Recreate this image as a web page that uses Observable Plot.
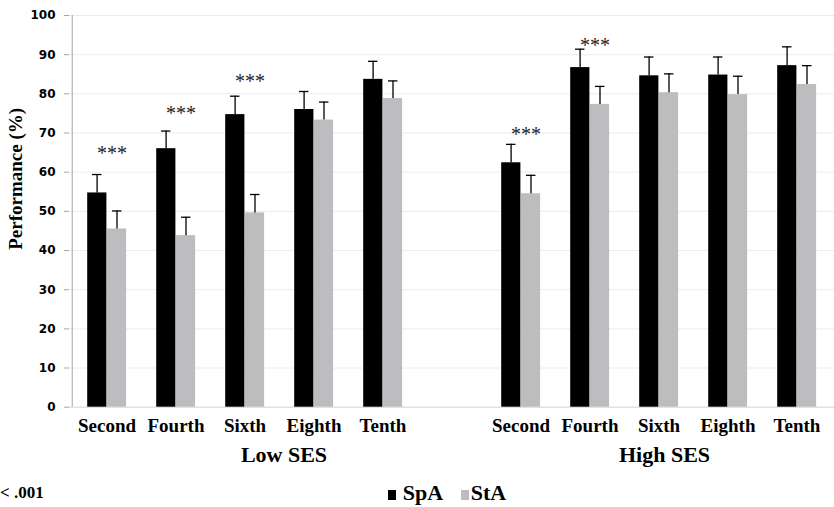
<!DOCTYPE html>
<html>
<head>
<meta charset="utf-8">
<script src="https://cdn.jsdelivr.net/npm/d3@7"></script>
<script src="https://cdn.jsdelivr.net/npm/@observablehq/plot@0.6"></script>
<style>
  html, body { margin: 0; padding: 0; background: #fff; overflow: hidden; }
  #wrap { position: relative; width: 834px; height: 507px; overflow: hidden; background: #fff; }
  #chart svg { display: block; }
  #foot { position: relative; width: 834px; height: 37px; font-family: "Liberation Serif", "Times New Roman", serif; font-weight: bold; color: #000; }
  #foot .note { position: absolute; left: 0px; top: 13.6px; font-size: 17px; line-height: 17px; white-space: nowrap; }
  #foot .lab { position: absolute; top: 11.6px; font-size: 22px; line-height: 22px; white-space: nowrap; }
  #foot .sw { position: absolute; top: 20px; width: 8px; height: 10px; }
</style>
</head>
<body>
<div id="wrap">
  <div id="chart"></div>
  <div id="foot">
    <span class="note">&lt; .001</span>
    <span class="sw" style="left:387.5px;background:#000;"></span>
    <span class="lab" style="left:402.7px;">SpA</span>
    <span class="sw" style="left:461px;background:#bdbdbf;"></span>
    <span class="lab" style="left:470.7px;">StA</span>
  </div>
</div>
<script>
// ---- data ----
const grades = ["Second", "Fourth", "Sixth", "Eighth", "Tenth"];
const groups = ["Low SES", "High SES"];
const series = ["SpA", "StA"];
const yTicks = [0, 10, 20, 30, 40, 50, 60, 70, 80, 90, 100];

const spaLow  = [54.7, 66.0, 74.7, 76.0, 83.7];
const staLow  = [45.5, 43.8, 49.6, 73.3, 78.8];
const spaHigh = [62.4, 86.7, 84.6, 84.8, 87.2];
const staHigh = [54.5, 77.3, 80.3, 79.8, 82.4];

const spaLowErr  = [4.7, 4.5, 4.7, 4.6, 4.6];
const staLowErr  = [4.6, 4.7, 4.7, 4.6, 4.5];
const spaHighErr = [4.7, 4.7, 4.8, 4.6, 4.8];
const staHighErr = [4.7, 4.6, 4.8, 4.7, 4.8];

// significance markers ("***"): group, grade, height of the marker
const starGroup = ["Low SES", "Low SES", "Low SES", "High SES", "High SES"];
const starGrade = ["Second", "Fourth", "Sixth", "Second", "Fourth"];
const starLevel = [65.6, 75.6, 84.0, 70.4, 93.0];

// ---- build tables ----
const key = (g, gr) => g + "|" + gr;
const slots = [
  ...grades.map(gr => key("Low SES", gr)),
  "gap",
  ...grades.map(gr => key("High SES", gr))
];
const values = {"Low SES": {SpA: spaLow, StA: staLow}, "High SES": {SpA: spaHigh, StA: staHigh}};
const errors = {"Low SES": {SpA: spaLowErr, StA: staLowErr}, "High SES": {SpA: spaHighErr, StA: staHighErr}};
const rows = [];
for (const g of groups) for (const s of series) grades.forEach((gr, i) => {
  rows.push({slot: key(g, gr), series: s, value: values[g][s][i], err: errors[g][s][i]});
});
const spaRows = rows.filter(d => d.series === "SpA");
const staRows = rows.filter(d => d.series === "StA");
const stars = starGroup.map((g, i) => ({slot: key(g, starGrade[i]), y: starLevel[i]}));

const serif = "Liberation Serif, Times New Roman, serif";
const W = 834, H = 470;
const mL = 69, mT = 15, mB = 63.3;
const band = (W - mL) / slots.length;

const chart = Plot.plot({
  width: W,
  height: H,
  marginLeft: mL,
  marginRight: 0,
  marginTop: mT,
  marginBottom: mB,
  style: {background: "#fff", overflow: "visible"},
  x: {type: "band", domain: slots, paddingInner: 0, paddingOuter: 0},
  y: {domain: [0, 100]},
  marks: [
    Plot.gridY(yTicks, {stroke: "#ececec", strokeOpacity: 1}),
    Plot.ruleY([0], {stroke: "#d9d9d9"}),
    Plot.barY(spaRows, {x: "slot", y: "value", fill: "#000", insetLeft: 15.2, insetRight: 34.6}),
    Plot.barY(staRows, {x: "slot", y: "value", fill: "#bdbdbf", insetLeft: 34.9, insetRight: 14.9}),
    Plot.ruleX(spaRows, {x: "slot", y1: "value", y2: d => d.value + d.err, dx: -9.9, stroke: "#000", strokeWidth: 1.3}),
    Plot.ruleX(staRows, {x: "slot", y1: "value", y2: d => d.value + d.err, dx: 10, stroke: "#000", strokeWidth: 1.3}),
    Plot.tickY(spaRows, {x: "slot", y: d => d.value + d.err, insetLeft: 20, insetRight: band - 30, stroke: "#000", strokeWidth: 1.3}),
    Plot.tickY(staRows, {x: "slot", y: d => d.value + d.err, insetLeft: 40, insetRight: band - 50, stroke: "#000", strokeWidth: 1.3}),
    Plot.text(stars, {x: "slot", y: "y", text: () => "***", dx: 5, dy: 3, fontSize: 20, fontFamily: serif, fill: "#222"}),
    Plot.ruleX([slots[0]], {x: d => d, y1: 0, y2: 100, dx: -band / 2, stroke: "#a6a6a6"}),
    Plot.axisY(yTicks, {tickSize: 5, tickPadding: 9, stroke: "#a6a6a6", fill: "#000", fontSize: 12, fontWeight: "bold", fontFamily: "DejaVu Sans", label: null}),
    Plot.axisX({tickSize: 0, tickPadding: 11.5, tickFormat: k => k === "gap" ? "" : k.split("|")[1], fontSize: 19, fontWeight: "bold", fontFamily: serif, fill: "#000", label: null}),
    Plot.text(["Low SES"], {x: () => key("Low SES", "Eighth"), text: d => d, frameAnchor: "bottom", lineAnchor: "top", dx: -30, dy: 39.4, fontSize: 22, fontWeight: "bold", fontFamily: serif, fill: "#000"}),
    Plot.text(["High SES"], {x: () => key("High SES", "Sixth"), text: d => d, frameAnchor: "bottom", lineAnchor: "top", dx: 5.5, dy: 39.4, fontSize: 22, fontWeight: "bold", fontFamily: serif, fill: "#000"}),
    Plot.text(["Performance (%)"], {text: d => d, frameAnchor: "left", textAnchor: "middle", rotate: -90, dx: 15 - mL, dy: 178.3 - (mT + (H - mB)) / 2, fontSize: 19, fontWeight: "bold", fontFamily: serif, fill: "#000"})
  ]
});
document.getElementById("chart").appendChild(chart);
</script>
</body>
</html>
